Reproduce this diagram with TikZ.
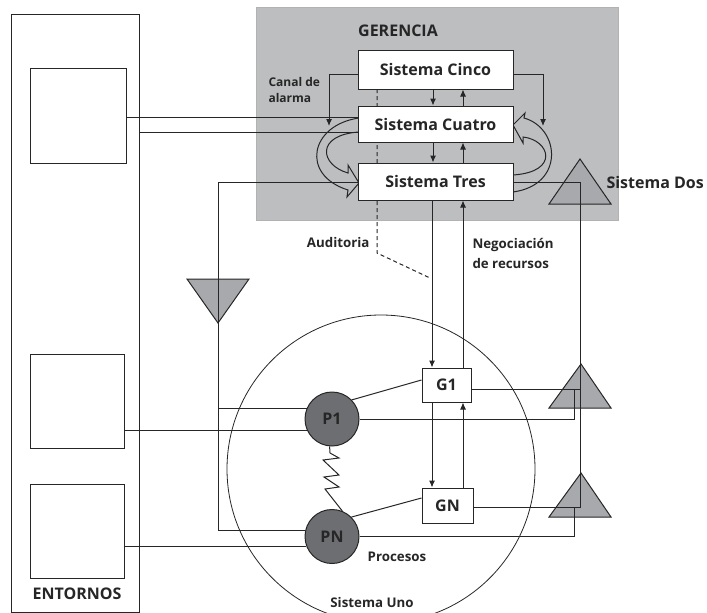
\documentclass[tikz,border=0pt]{standalone}
\usepackage{fontspec}
\setmainfont{Open Sans}
\usetikzlibrary{arrows.meta}
\definecolor{panel}{HTML}{BCBEC0}
\definecolor{tri}{HTML}{A7A9AC}
\definecolor{proc}{HTML}{6D6E71}

\begin{document}
\begin{tikzpicture}[x=1pt, y=-1pt, line width=1pt, color=black!85,
    caja/.style={draw, fill=white, inner sep=0pt, font=\bfseries\fontsize{16}{19}\selectfont},
    proceso/.style={circle, draw, fill=proc, minimum size=54pt, inner sep=0pt, font=\bfseries\fontsize{16}{19}\selectfont},
    vacia/.style={draw, inner sep=0pt},
    flecha/.style={-{Latex[length=7pt,width=6pt]}},
    etiqueta/.style={inner sep=0pt, font=\bfseries\fontsize{13.3}{20}\selectfont},
    titulo/.style={inner sep=0pt, font=\bfseries\fontsize{16}{19}\selectfont},
    amp/.style={draw, fill=tri}]
    \clip (0,0) rectangle (707,613);

    % entornos
    \node[vacia, minimum width=128pt, minimum height=598pt] (ent) at (75,313) {};
    \node[vacia, minimum width=96pt, minimum height=95pt] (e1) at (78,115.5) {};
    \node[vacia, minimum width=94pt, minimum height=94pt] (e2) at (77,401) {};
    \node[vacia, minimum width=94pt, minimum height=94pt] (e3) at (77,531) {};
    \node[titulo] (entxt) at (77,594) {ENTORNOS};

    % gerencia
    \node[fill=panel, draw=black!30, line width=0.8pt, minimum width=362pt, minimum height=213pt] (ger) at (437,113.5) {};
    \node[titulo] (gertxt) at (398,31) {GERENCIA};
    \node[etiqueta, font=\bfseries\fontsize{12}{16}\selectfont, align=left, anchor=west] (canal) at (268,90) {Canal de\\alarma};

    \coordinate (aud1) at (377,89);
    \coordinate (aud2) at (377,253);
    \coordinate (aud3) at (430,278);
    \draw[dashed, dash pattern=on 4pt off 3pt] (aud1) -- (aud2) -- (aud3);

    % flechas huecas
    \draw (359,118) .. controls (310,125) and (300,175) .. (348,190) -- (347,197) -- (359,183)
        -- (348,165) -- (348,173) .. controls (320,165) and (315,135) .. (359,132);
    \draw (513,125) -- (525,113) -- (524,118) .. controls (560,128) and (565,185) .. (513,192)
        -- (513,175) .. controls (560,172) and (550,140) .. (523,137) -- (523,143) -- cycle;

    \node[caja, minimum width=155pt, minimum height=39pt] (cinco) at (435.5,69.5) {Sistema Cinco};
    \node[caja, minimum width=155pt, minimum height=36pt] (cuatro) at (435.5,124) {Sistema Cuatro};
    \node[caja, minimum width=155pt, minimum height=37pt] (tres) at (435.5,181.5) {Sistema Tres};

    % amplificadores
    \draw[amp] (549,204) -- (580,159) -- (611,204) -- cycle;
    \draw[amp] (187,279) -- (249,279) -- (218,323) -- cycle;
    \draw[amp] (549,408) -- (581,364) -- (611,408) -- cycle;
    \draw[amp] (549,517) -- (581,473) -- (611,517) -- cycle;
    \node[titulo, anchor=west] (dos) at (606,182) {Sistema Dos};

    % sistema uno
    \draw[line width=0.8pt] (381,469) circle[radius=154];
    \node[proceso] (p1) at (332,419) {P1};
    \node[proceso] (pn) at (332,536.5) {PN};
    \node[caja, minimum width=49pt, minimum height=34pt] (g1) at (446.5,385) {G1};
    \node[caja, minimum width=51pt, minimum height=35pt] (gn) at (447.5,505.5) {GN};
    \node[etiqueta] (proc) at (397,557) {Procesos};
    \node[etiqueta] (uno) at (372,603) {Sistema Uno};
    \node[etiqueta, anchor=east] (audtxt) at (370,243) {Auditoria};
    \node[etiqueta, align=left, anchor=west] (neg) at (472,253) {Negociación\\de recursos};

    % canales verticales
    \draw[flecha] (cinco.west |- 0,74) -| (329,126);
    \draw[flecha] (cinco.east |- 0,74) -| (543,126);
    \draw[flecha] (cinco.south -| 433,0) -- (cuatro.north -| 433,0);
    \draw[flecha] (cuatro.north -| 463,0) -- (cinco.south -| 463,0);
    \draw[flecha] (cuatro.south -| 433,0) -- (tres.north -| 433,0);
    \draw[flecha] (tres.north -| 463,0) -- (cuatro.south -| 463,0);
    \draw[flecha] (tres.south -| 432,0) -- (g1.north -| 432,0);
    \draw[flecha] (g1.north -| 463,0) -- (tres.south -| 463,0);
    \draw[flecha] (g1.south -| 432,0) -- (gn.north -| 432,0);
    \draw[flecha] (gn.north -| 463,0) -- (g1.south -| 463,0);

    % sistema dos
    \draw (tres.east |- 0,182) -| (580,507) -- (gn.east |- 0,507);
    \draw (g1.east |- 0,389) -- (580,389);
    \draw (574,389) |- (p1.east);
    \draw (574,507) |- (pn.east);

    % lazo izquierdo
    \draw (tres.west |- 0,182) -| (pn.167 -| 218,0) -- (pn.167);
    \draw (p1.158 -| 218,0) -- (p1.158);

    % entornos a operaciones
    \draw (e1.east |- 0,117) -- (cuatro.west |- 0,117);
    \draw (ent.east |- 0,132) -- (cuatro.west |- 0,132);
    \draw (p1.204 -| e2.east) -- (p1.204);
    \draw (pn.201 -| e3.east) -- (pn.201);

    \draw (p1.44) -- (g1.west |- 0,380);
    \draw (pn.45) -- (gn.west |- 0,498);
    \draw (p1.265) -- (330,453) -- (339,458) -- (323,460) -- (339,475) -- (324,477)
        -- (339,487) -- (325,489) -- (pn.68);

  \end{tikzpicture}
\end{document}
